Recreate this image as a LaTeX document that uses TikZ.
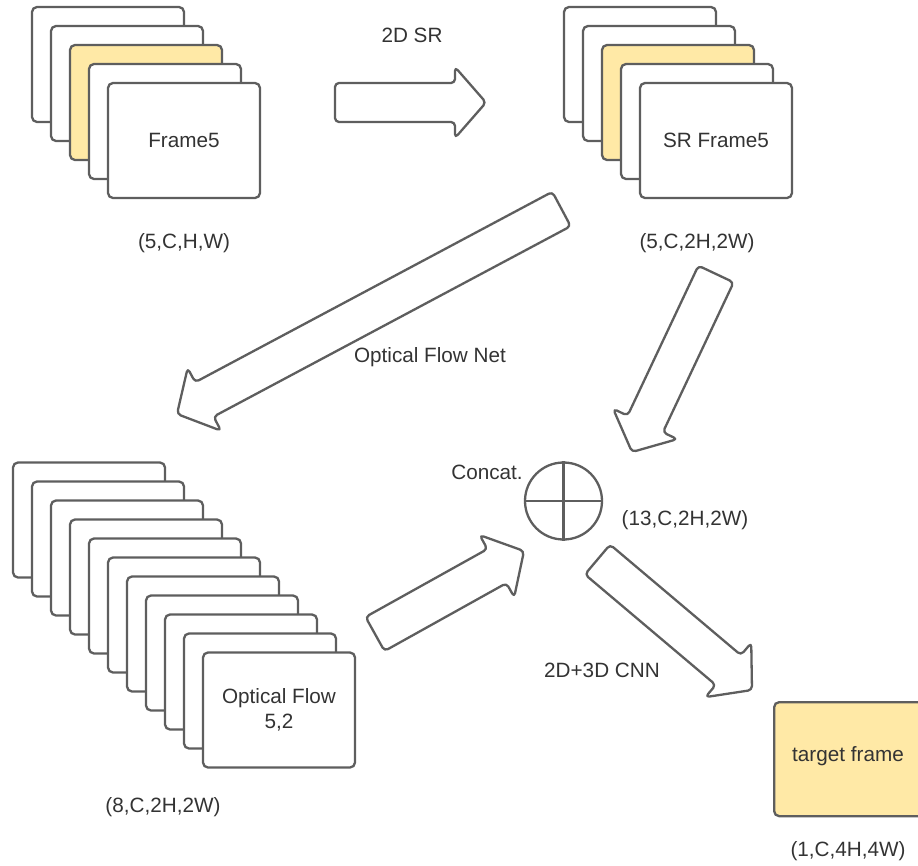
\documentclass[tikz,border=0pt]{standalone}
\usepackage{fontspec}
\setmainfont{Liberation Sans}
\usetikzlibrary{calc}
\definecolor{edgegray}{HTML}{5E5E5E}
\definecolor{txtgray}{HTML}{333333}
\definecolor{yel}{HTML}{FFE9A6}
\newcommand\blockarr[3]{%
  \coordinate (#3h) at ($(#2)!31pt!(#1)$);
  \draw[barrow] ($(#1)!19.5pt!90:(#2)$) -- ($(#3h)!19.5pt!-90:(#1)$)
     -- ($(#3h)!35.5pt!-90:(#1)$) -- (#2) -- ($(#3h)!35.5pt!90:(#1)$)
     -- ($(#3h)!19.5pt!90:(#1)$) -- ($(#1)!19.5pt!-90:(#2)$) -- cycle;
}
\begin{document}
\begin{tikzpicture}[x=1pt,y=-1pt,
  frame/.style={draw=edgegray, line width=2.3pt, fill=white, rounded corners=5pt,
    minimum width=152pt, minimum height=115pt, inner sep=0pt,
    font=\fontsize{20.7}{25}\selectfont, text=txtgray, align=center},
  lbl/.style={font=\fontsize{20.7}{25}\selectfont, text=txtgray, inner sep=0pt},
  barrow/.style={draw=edgegray, line width=2.3pt, fill=white, rounded corners=4pt, line join=round},
  cat/.style={circle, draw=edgegray, line width=2.3pt, fill=white, minimum size=77pt, inner sep=0pt}]
\useasboundingbox (0,0) rectangle (918,865);
\clip (0,0) rectangle (918,865);
% top-left stack
\foreach \i in {0,...,3}{
  \ifnum\i=2
    \node[frame, fill=yel] (in\i) at (108+19*\i, 64.5+19*\i) {};
  \else
    \node[frame] (in\i) at (108+19*\i, 64.5+19*\i) {};
  \fi
}
\node[frame] (in4) at (184, 140.5) {Frame5};
\node[lbl] (lin) at (184,243) {(5,C,H,W)};
% top-right stack
\foreach \i in {0,...,3}{
  \ifnum\i=2
    \node[frame, fill=yel] (sr\i) at (640+19*\i, 64.5+19*\i) {};
  \else
    \node[frame] (sr\i) at (640+19*\i, 64.5+19*\i) {};
  \fi
}
\node[frame] (sr4) at (716, 140.5) {SR Frame5};
\node[lbl] (lsr) at (697,243) {(5,C,2H,2W)};
% bottom-left stack
\foreach \i in {0,...,9}{
  \node[frame] (of\i) at (89+19*\i, 520+19*\i) {};
}
\node[frame] (of10) at (279, 710) {Optical Flow\\5,2};
\node[lbl] (lof) at (163,807) {(8,C,2H,2W)};
% concat
\node[cat] (cc) at (563.5,501) {};
\draw[edgegray, line width=2.3pt] (cc.north) -- (cc.south) (cc.west) -- (cc.east);
\node[lbl] (lcc) at (487,472) {Concat.};
\node[lbl] (lcs) at (685,520) {(13,C,2H,2W)};
% target
\node[frame, fill=yel, anchor=north west, minimum height=114pt] (tg) at (773,701) {};
\node[lbl] (tgt) at (848,756) {target frame};
\node[lbl] (ltg) at (848,851) {(1,C,4H,4W)};
% arrow labels
\node[lbl] (l2d) at (412,35) {2D SR};
\node[lbl] (lofn) at (430,357) {Optical Flow Net};
\node[lbl] (lcnn) at (602,670) {2D+3D CNN};
% block arrows
\coordinate (a1t) at (335,102.5); \coordinate (a1p) at (486,102.5);
\coordinate (a2t) at (561.5,209); \coordinate (a2p) at (177,414);
\coordinate (a3t) at (716,274);   \coordinate (a3p) at (632,452);
\coordinate (a4t) at (375,634);   \coordinate (a4p) at (524,551);
\coordinate (a5t) at (597.5,559.5); \coordinate (a5p) at (752,690);
\blockarr{a1t}{a1p}{a1}
\blockarr{a2t}{a2p}{a2}
\blockarr{a3t}{a3p}{a3}
\blockarr{a4t}{a4p}{a4}
\blockarr{a5t}{a5p}{a5}
\end{tikzpicture}
\end{document}
